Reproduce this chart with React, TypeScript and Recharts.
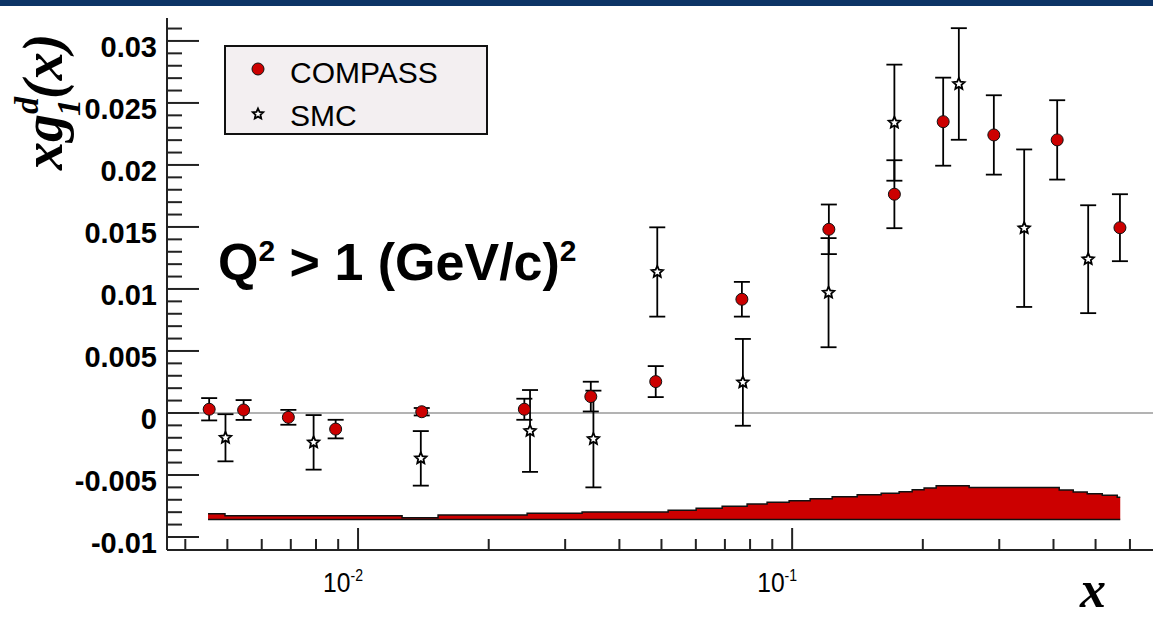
import React from "react"
import {
  ComposedChart, Scatter, Area, Line, XAxis, YAxis, ErrorBar, ReferenceLine, Legend
} from "recharts"

// COMPASS points (x, x*g1d, stat. error)
const compassX = [0.00454, 0.00545, 0.00691, 0.00888, 0.01402, 0.02416, 0.03437, 0.0485, 0.0766, 0.1215, 0.172, 0.2228, 0.2915, 0.4079, 0.569]
const compassY = [0.0003, 0.00024, -0.00035, -0.0013, 0.0001, 0.0003, 0.00132, 0.00253, 0.00917, 0.01481, 0.01764, 0.02349, 0.02242, 0.02202, 0.01494]
const compassErr = [0.0009, 0.0008, 0.0006, 0.00075, 0.0003, 0.00085, 0.0012, 0.00125, 0.0014, 0.002, 0.00274, 0.00355, 0.0032, 0.0032, 0.0027]

// SMC points
const smcX = [0.00495, 0.0079, 0.01395, 0.0249, 0.03485, 0.0489, 0.077, 0.1213, 0.172, 0.2421, 0.3424, 0.4808]
const smcY = [-0.002, -0.00237, -0.00366, -0.00145, -0.0021, 0.01137, 0.00247, 0.0097, 0.02341, 0.02653, 0.0149, 0.0124]
const smcErr = [0.0019, 0.0022, 0.0022, 0.0033, 0.0039, 0.0036, 0.0035, 0.0044, 0.00468, 0.0045, 0.00635, 0.00435]

// systematic error band (bin edges and top of each bin)
const bandX = [0.004513, 0.004937, 0.01263, 0.01529, 0.02452, 0.03282, 0.0518, 0.0601, 0.06899, 0.07875, 0.08756, 0.09842, 0.11002, 0.12366, 0.1412, 0.16036, 0.17639, 0.18903, 0.20137, 0.21469, 0.25574, 0.4123, 0.44412, 0.47834, 0.51807, 0.5609, 0.5699]
const bandTop = [-0.00812, -0.00828, -0.00844, -0.00823, -0.00809, -0.00798, -0.00785, -0.00769, -0.00752, -0.00734, -0.0072, -0.00707, -0.00691, -0.00675, -0.00659, -0.00648, -0.00635, -0.00619, -0.00605, -0.00586, -0.00602, -0.00621, -0.00637, -0.00651, -0.00664, -0.0068, -0.0068]
const bandBase = -0.0086

const yMajor = [-0.01, -0.005, 0, 0.005, 0.01, 0.015, 0.02, 0.025, 0.03]
const yLabels = ["-0.01", "-0.005", "0", "0.005", "0.01", "0.015", "0.02", "0.025", "0.03"]
const yTicks = Array.from({ length: 42 }, (_, i) => Math.round((-0.01 + i * 0.001) * 1e4) / 1e4)
const xTicks = [0.004, 0.005, 0.006, 0.007, 0.008, 0.009, 0.01, 0.02, 0.03, 0.04, 0.05, 0.06, 0.07, 0.08, 0.09, 0.1, 0.2, 0.3, 0.4, 0.5, 0.6]
const xMajor: Record<string, string> = { "0.01": "-2", "0.1": "-1" }

const compassData = compassX.map((x, i) => ({ x, y: compassY[i], err: compassErr[i] }))
const smcData = smcX.map((x, i) => ({ x, y: smcY[i], err: smcErr[i] }))
const bandData = bandX.map((x, i) => ({ x, top: bandTop[i], base: bandBase }))

const X_DOMAIN: [number, number] = [0.00363, 0.7]
const Y_DOMAIN: [number, number] = [-0.01105, 0.03185]
const SANS = "'Liberation Sans', Arial, sans-serif"
const SERIF = "'Liberation Serif', 'Times New Roman', serif"
const RED = "#cc0000"

function YTick(props: any) {
  const { x, y, payload } = props
  const idx = yMajor.findIndex(m => Math.abs(m - payload.value) < 1e-9)
  const major = idx >= 0
  return (
    <g>
      <line x1={x} x2={x + (major ? 32 : 15)} y1={y} y2={y} stroke="#222" strokeWidth={2} />
      {major && (
        <text x={x - 10} y={y + 16} textAnchor="end" fontSize={29} fontWeight="bold" fontFamily={SANS} fill="#000">
          {yLabels[idx]}
        </text>
      )}
    </g>
  )
}

function XTick(props: any) {
  const { x, y, payload } = props
  const exp = xMajor[String(payload.value)]
  return (
    <g>
      <line x1={x} x2={x} y1={y} y2={y - (exp ? 22 : 11)} stroke="#222" strokeWidth={2} />
      {exp && (
        <text x={x + 5} y={y + 42} textAnchor="end" fontSize={28} fontFamily={SANS} fill="#000" transform={`translate(${x + 5},0) scale(0.88,1) translate(${-(x + 5)},0)`}>
          10<tspan dy={-11} fontSize={16}>{exp}</tspan>
        </text>
      )}
    </g>
  )
}

function CompassDot(props: any) {
  const { cx, cy } = props
  return <circle cx={cx} cy={cy} r={6} fill={RED} stroke="#111" strokeWidth={1} />
}

function starPath(cx: number, cy: number, R: number, r: number) {
  let d = ""
  for (let i = 0; i < 10; i++) {
    const rad = i % 2 === 0 ? R : r
    const a = -Math.PI / 2 + (i * Math.PI) / 5
    d += (i === 0 ? "M" : "L") + (cx + rad * Math.cos(a)).toFixed(2) + "," + (cy + rad * Math.sin(a)).toFixed(2)
  }
  return d + "Z"
}

function SmcStar(props: any) {
  const { cx, cy } = props
  return <path d={starPath(cx, cy, 6, 2.8)} fill="#fff" stroke="#000" strokeWidth={1.8} />
}

function LegendBox() {
  return (
    <div style={{
      width: 264, height: 90, boxSizing: "border-box", border: "2px solid #111",
      background: "#f3eff1", fontFamily: SANS, fontSize: 30, color: "#000", position: "relative"
    }}>
      <svg width={40} height={90} style={{ position: "absolute", left: 12, top: 0 }}>
        <circle cx={20} cy={22} r={6} fill={RED} stroke="#111" strokeWidth={1} />
        <path d={starPath(20, 67, 5.5, 2.6)} fill="#fff" stroke="#000" strokeWidth={1.8} />
      </svg>
      <div style={{ position: "absolute", left: 64, top: 10, lineHeight: "32px" }}>COMPASS</div>
      <div style={{ position: "absolute", left: 64, top: 53, lineHeight: "32px" }}>SMC</div>
    </div>
  )
}

export default function App() {
  return (
    <div style={{ position: "fixed", left: 0, top: 0, width: 1153, height: 623, overflow: "hidden", background: "#fff" }}>
      <div style={{ position: "absolute", left: 0, top: 0, width: 1153, height: 6, background: "#0d3466" }} />
      <ComposedChart
        width={1170}
        height={623}
        data={bandData}
        margin={{ top: 18, right: 11, left: 7, bottom: 13 }}
      >
        <XAxis
          dataKey="x" type="number" scale="log" domain={X_DOMAIN} allowDataOverflow
          ticks={xTicks} interval={0} tick={<XTick />} tickLine={false} tickSize={0} tickMargin={0}
          axisLine={{ stroke: "#222", strokeWidth: 2 }} height={60}
        />
        <XAxis
          xAxisId="top" orientation="top" dataKey="x" type="number" scale="log" domain={X_DOMAIN}
          allowDataOverflow tick={false} tickLine={false} axisLine={{ stroke: "#222", strokeWidth: 2 }} height={0}
        />
        <YAxis
          dataKey="y" type="number" domain={Y_DOMAIN} allowDataOverflow ticks={yTicks} interval={0}
          tick={<YTick />} tickLine={false} tickSize={0} tickMargin={0}
          axisLine={{ stroke: "#222", strokeWidth: 2 }} width={160}
        />
        <ReferenceLine y={0} stroke="#9a9a9a" strokeWidth={1.5} />
        <Area
          dataKey="top" type="stepAfter" baseValue={bandBase} fill={RED} fillOpacity={1}
          stroke="#111" strokeWidth={1.5} isAnimationActive={false} dot={false} activeDot={false}
        />
        <Line
          dataKey="base" type="linear" stroke="#111" strokeWidth={1.5} dot={false} activeDot={false}
          isAnimationActive={false}
        />
        <Scatter data={smcData} shape={SmcStar} isAnimationActive={false}>
          <ErrorBar dataKey="err" direction="y" width={8} stroke="#000" strokeWidth={1.8} />
        </Scatter>
        <Scatter data={compassData} shape={CompassDot} isAnimationActive={false}>
          <ErrorBar dataKey="err" direction="y" width={8} stroke="#000" strokeWidth={1.8} />
        </Scatter>
        <Legend
          layout="horizontal" verticalAlign="middle" align="center"
          content={() => <LegendBox />}
          wrapperStyle={{ position: "absolute", left: 224, top: 45, width: 264, height: 90 }}
        />
      </ComposedChart>

      <svg width={1153} height={623} style={{ position: "absolute", left: 0, top: 0, pointerEvents: "none" }}>
        <text x={218} y={280} fontFamily={SANS} fontWeight="bold" fontSize={52} fill="#000">
          Q<tspan dy={-19} fontSize={30}>2</tspan>
          <tspan dy={19}> &gt; 1 (GeV/c)</tspan>
          <tspan dy={-19} fontSize={30}>2</tspan>
        </text>
        <text
          transform="translate(62,170) rotate(-90)" fontFamily={SERIF} fontStyle="italic"
          fontWeight="bold" fontSize={56} fill="#000"
        >
          xg<tspan dy={-24} fontSize={34}>d</tspan>
          <tspan dx={-19} dy={42} fontSize={34}>1</tspan>
          <tspan dy={-18}>(x)</tspan>
        </text>
        <text x={1080} y={607} fontFamily={SERIF} fontStyle="italic" fontWeight="bold" fontSize={52} fill="#000">
          x
        </text>
      </svg>
    </div>
  )
}
